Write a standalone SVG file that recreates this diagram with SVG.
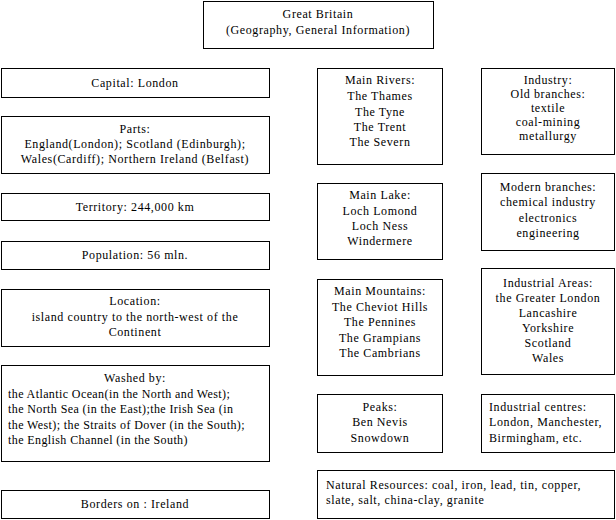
<svg xmlns="http://www.w3.org/2000/svg" width="616" height="520" viewBox="0 0 616 520">
<style>
rect{fill:#fff;stroke:#000;stroke-width:1}
text{font-family:'Liberation Serif',serif;font-size:12px;letter-spacing:0.6px;fill:#000;text-anchor:middle}
.l{text-anchor:start}
.j{letter-spacing:0.4px}
</style>
<rect x="0" y="0" width="616" height="520" style="stroke:none"/>
<g id="connectors"></g>
<g font-family="'Liberation Serif', serif">
<g id="gb"><rect x="203.5" y="1.5" width="230" height="47"/><text x="318" y="18">Great Britain</text><text x="318" y="34">(Geography, General Information)</text></g>
<g id="capital"><rect x="1.5" y="68.5" width="268" height="29"/><text x="135" y="87">Capital: London</text></g>
<g id="parts"><rect x="1.5" y="116.5" width="268" height="57"/><text x="135" y="133">Parts:</text><text x="135" y="148">England(London); Scotland (Edinburgh);</text><text x="135" y="163">Wales(Cardiff); Northern Ireland (Belfast)</text></g>
<g id="territory"><rect x="1.5" y="193.5" width="268" height="27"/><text x="135" y="211">Territory: 244,000 km</text></g>
<g id="population"><rect x="1.5" y="241.5" width="268" height="28"/><text x="135" y="259">Population: 56 mln.</text></g>
<g id="location"><rect x="1.5" y="289.5" width="268" height="57"/><text x="135" y="305">Location:</text><text x="135" y="321">island country to the north-west of the</text><text x="135" y="336">Continent</text></g>
<g id="washed"><rect x="1.5" y="365.5" width="268" height="96"/><text x="135" y="382">Washed by:</text><text class="l j" x="8" y="398">the Atlantic Ocean(in the North and West);</text><text class="l j" x="8" y="413">the North Sea (in the East);the Irish Sea (in</text><text class="l j" x="8" y="429">the West); the Straits of Dover (in the South);</text><text class="l j" x="8" y="444">the English Channel (in the South)</text></g>
<g id="borders"><rect x="1.5" y="490.5" width="268" height="28"/><text x="135" y="508">Borders on : Ireland</text></g>
<g id="rivers"><rect x="317.5" y="68.5" width="125" height="96"/><text x="380" y="84">Main Rivers:</text><text x="380" y="100">The Thames</text><text x="380" y="116">The Tyne</text><text x="380" y="131">The Trent</text><text x="380" y="146">The Severn</text></g>
<g id="industry"><rect x="481.5" y="68.5" width="133" height="86"/><text x="548" y="84">Industry:</text><text x="548" y="98">Old branches:</text><text x="548" y="112">textile</text><text x="548" y="126">coal-mining</text><text x="548" y="140">metallurgy</text></g>
<g id="lake"><rect x="317.5" y="183.5" width="125" height="76"/><text x="380" y="199">Main Lake:</text><text x="380" y="215">Loch Lomond</text><text x="380" y="230">Loch Ness</text><text x="380" y="245">Windermere</text></g>
<g id="modern"><rect x="481.5" y="173.5" width="133" height="77"/><text x="548" y="191">Modern branches:</text><text x="548" y="206">chemical industry</text><text x="548" y="222">electronics</text><text x="548" y="237">engineering</text></g>
<g id="mountains"><rect x="317.5" y="279.5" width="125" height="96"/><text x="380" y="295">Main Mountains:</text><text x="380" y="311">The Cheviot Hills</text><text x="380" y="326">The Pennines</text><text x="380" y="342">The Grampians</text><text x="380" y="357">The Cambrians</text></g>
<g id="areas"><rect x="481.5" y="268.5" width="133" height="106"/><text x="548" y="287">Industrial Areas:</text><text x="548" y="302">the Greater London</text><text x="548" y="317">Lancashire</text><text x="548" y="332">Yorkshire</text><text x="548" y="347">Scotland</text><text x="548" y="362">Wales</text></g>
<g id="peaks"><rect x="317.5" y="394.5" width="125" height="58"/><text x="380" y="411">Peaks:</text><text x="380" y="426">Ben Nevis</text><text x="380" y="442">Snowdown</text></g>
<g id="centres"><rect x="481.5" y="394.5" width="133" height="58"/><text class="l" x="489" y="411">Industrial centres:</text><text class="l" x="489" y="426">London, Manchester,</text><text class="l" x="489" y="442">Birmingham, etc.</text></g>
<g id="resources"><rect x="317.5" y="470.5" width="297" height="48"/><text class="l" x="326" y="489">Natural Resources: coal, iron, lead, tin, copper,</text><text class="l" x="326" y="504">slate, salt, china-clay, granite</text></g>
</g>
</svg>
